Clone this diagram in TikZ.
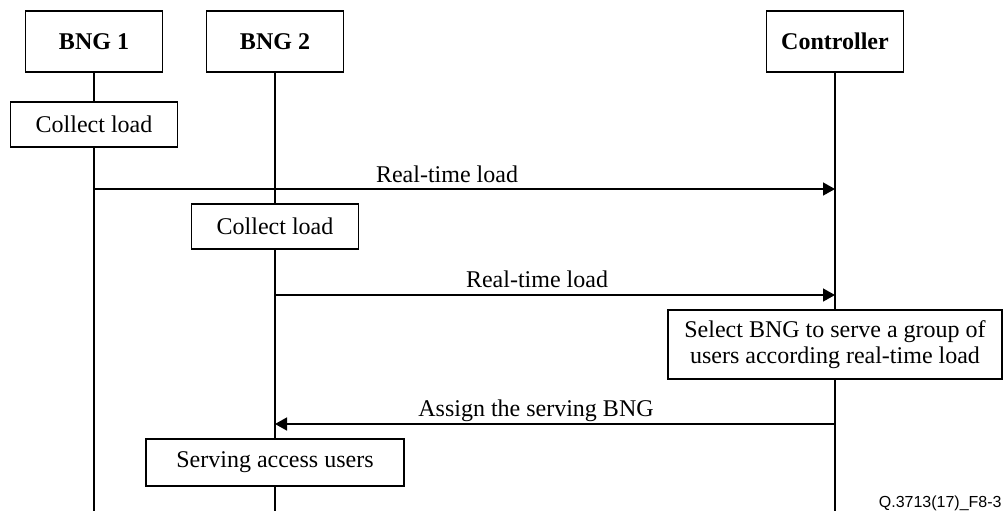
\documentclass[tikz,border=0pt]{standalone}
\usepackage{fontspec}
\setmainfont{Liberation Serif}
\newfontfamily\figsans{Liberation Sans}
\usetikzlibrary{arrows.meta}
\begin{document}
\begin{tikzpicture}[x=0.5pt,y=-0.5pt,
  box/.style={draw, line width=0.75pt, fill=white, inner sep=0pt,
    font=\fontsize{12}{13}\selectfont, align=center},
  head/.style={box, minimum width=68.5pt, minimum height=30.5pt,
    font=\fontsize{12}{13}\selectfont\bfseries},
  stepbox/.style={box, minimum width=83.5pt, minimum height=22.5pt},
  life/.style={line width=0.75pt},
  msg/.style={line width=0.75pt, -{Triangle[length=6pt,width=6.5pt]}},
  lbl/.style={anchor=base, inner sep=0pt, font=\fontsize{12}{13}\selectfont}]
\useasboundingbox (0,0) rectangle (1003,511);

% participants
\node[head] (bng1) at (94,41.5) {BNG 1};
\node[head] (bng2) at (275,41.5) {BNG 2};
\node[head] (ctrl) at (835,41.5) {Controller};

% activity boxes
\node[stepbox] (col1) at (94,124.5) {Collect load};
\node[stepbox] (col2) at (275,226.5) {Collect load};
\node[box, minimum width=167pt, minimum height=34.5pt] (sel) at (835,344.5)
  {Select BNG to serve a group of\\users according real-time load};
\node[box, minimum width=129pt, minimum height=23.5pt] (serv) at (275,462.5)
  {Serving access users};

% lifeline ends
\coordinate (b1) at (94,511);
\coordinate (b2) at (275,511);
\coordinate (b3) at (835,511);

% lifelines
\draw[life] (bng1) -- (col1);
\draw[life] (col1) -- (b1);
\draw[life] (bng2) -- (col2);
\draw[life] (col2) -- (serv);
\draw[life] (serv) -- (b2);
\draw[life] (ctrl) -- (sel);
\draw[life] (sel) -- (b3);

% message end points
\coordinate (m1a) at (94,189);
\coordinate (m1b) at (835,189);
\coordinate (m2a) at (275,295);
\coordinate (m2b) at (835,295);
\coordinate (m3a) at (835,424);
\coordinate (m3b) at (275,424);

% messages
\draw[msg] (m1a) -- (m1b);
\node[lbl] (l1) at (447,182) {Real-time load};
\draw[msg] (m2a) -- (m2b);
\node[lbl] (l2) at (537,287) {Real-time load};
\draw[msg] (m3a) -- (m3b);
\node[lbl] (l3) at (536,416) {Assign the serving BNG};

% figure identifier
\node[anchor=base east, inner sep=0pt, font=\figsans\fontsize{8}{9}\selectfont]
  (fid) at (1002,507) {Q.3713(17)\_F8-3};
\end{tikzpicture}
\end{document}
